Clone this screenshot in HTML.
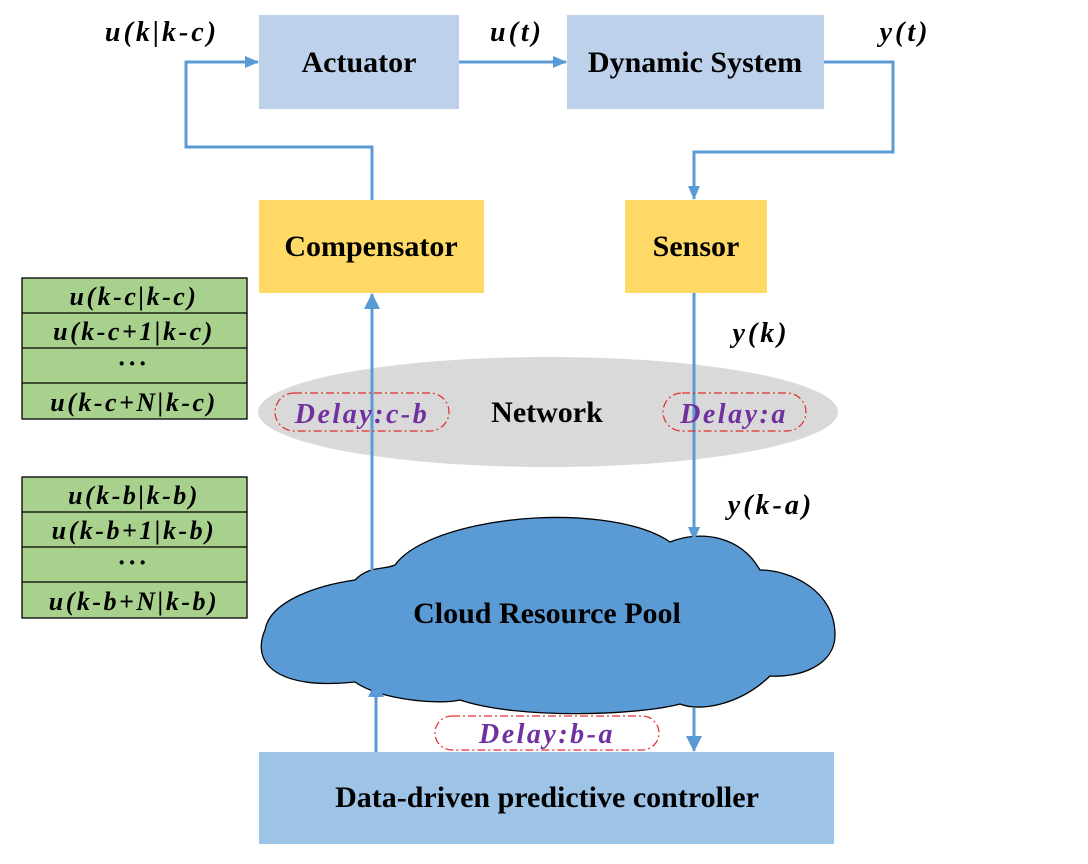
<!DOCTYPE html>
<html><head><meta charset="utf-8"><style>
body{margin:0;background:#fff}
svg text{font-family:"Liberation Serif",serif;font-weight:bold}
</style></head><body>
<svg width="1088" height="859" viewBox="0 0 1088 859" xmlns="http://www.w3.org/2000/svg">
<defs>
<marker id="ah" markerWidth="14" markerHeight="14" refX="13" refY="7" orient="auto" markerUnits="userSpaceOnUse">
<path d="M0,1 L14,7 L0,13 z" fill="#5b9bd5"/></marker>
<marker id="ah2" markerWidth="16" markerHeight="16" refX="15" refY="8" orient="auto" markerUnits="userSpaceOnUse">
<path d="M0,0 L16,8 L0,16 z" fill="#5b9bd5"/></marker>
</defs>
<rect x="259" y="15" width="200" height="94" fill="#bed1ea"/>
<text x="359" y="72" font-size="30" text-anchor="middle">Actuator</text>
<rect x="567" y="15" width="257" height="94" fill="#bed1ea"/>
<text x="695" y="72" font-size="30" text-anchor="middle">Dynamic System</text>
<rect x="259" y="200" width="225" height="93" fill="#ffd966"/>
<text x="371" y="256" font-size="30" text-anchor="middle">Compensator</text>
<rect x="625" y="200" width="142" height="93" fill="#ffd966"/>
<text x="696" y="256" font-size="30" text-anchor="middle">Sensor</text>
<ellipse cx="548" cy="412" rx="290" ry="55" fill="#d9d9d9"/>
<text x="547" y="422" font-size="30" text-anchor="middle">Network</text>
<path d="M355,580 C370,565 385,570 395,565 C420,530 520,510 600,520 C640,525 660,535 670,542 C700,530 740,535 760,570 C790,570 835,590 835,635 C835,665 800,678 770,676 C740,705 700,712 680,704 C640,715 520,720 460,700 C440,705 380,700 355,682 C280,690 250,665 265,630 C270,600 320,585 355,580 Z" fill="#5b9bd5" stroke="#000" stroke-width="1.3"/>
<text x="547" y="623" font-size="30" text-anchor="middle">Cloud Resource Pool</text>
<rect x="259" y="752" width="575" height="92" fill="#9dc3e6"/>
<text x="547" y="807" font-size="30" text-anchor="middle">Data-driven predictive controller</text>
<g fill="none" stroke="#5b9bd5" stroke-width="3">
<polyline points="372,200 372,147 186,147 186,62 258,62" marker-end="url(#ah)"/>
<line x1="459" y1="62" x2="566" y2="62" marker-end="url(#ah)"/>
<polyline points="824,62 893,62 893,152 694,152 694,199" marker-end="url(#ah)"/>
<line x1="694" y1="293" x2="694" y2="540" marker-end="url(#ah)"/>
<line x1="372" y1="580" x2="372" y2="294" marker-end="url(#ah2)"/>
<line x1="376" y1="752" x2="376" y2="682" marker-end="url(#ah2)"/>
<line x1="694" y1="708" x2="694" y2="751" marker-end="url(#ah2)"/>
</g>
<g fill="none" stroke="#e0302a" stroke-width="1.2" stroke-dasharray="8,3,2,3">
<rect x="275" y="393" width="174" height="38" rx="19"/>
<rect x="663" y="393" width="143" height="38" rx="19"/>
<rect x="435" y="716" width="224" height="34" rx="17"/>
</g>
<g fill="#7030a0" font-style="italic" font-size="28" text-anchor="middle" letter-spacing="2.5">
<text x="362" y="423">Delay:c-b</text>
<text x="734" y="423">Delay:a</text>
<text x="547" y="743">Delay:b-a</text>
</g>
<g font-style="italic" font-size="28" text-anchor="middle" letter-spacing="3">
<text x="162" y="41">u(k|k-c)</text>
<text x="517" y="41">u(t)</text>
<text x="905" y="41">y(t)</text>
<text x="761" y="342">y(k)</text>
<text x="771" y="514">y(k-a)</text>
</g>
<g stroke="#000" stroke-width="1.3" fill="#a9d18e">
<rect x="22" y="278" width="225" height="141"/>
<line x1="22" y1="313" x2="247" y2="313"/><line x1="22" y1="348" x2="247" y2="348"/><line x1="22" y1="383" x2="247" y2="383"/>
<rect x="22" y="477" width="225" height="141"/>
<line x1="22" y1="512" x2="247" y2="512"/><line x1="22" y1="547" x2="247" y2="547"/><line x1="22" y1="582" x2="247" y2="582"/>
</g>
<g font-style="italic" font-size="26" text-anchor="middle" letter-spacing="2.5">
<text x="134" y="305">u(k-c|k-c)</text>
<text x="134" y="340">u(k-c+1|k-c)</text>
<text x="134" y="372" letter-spacing="4">···</text>
<text x="134" y="411">u(k-c+N|k-c)</text>
<text x="134" y="504">u(k-b|k-b)</text>
<text x="134" y="539">u(k-b+1|k-b)</text>
<text x="134" y="571" letter-spacing="4">···</text>
<text x="134" y="610">u(k-b+N|k-b)</text>
</g>
</svg>
</body></html>
